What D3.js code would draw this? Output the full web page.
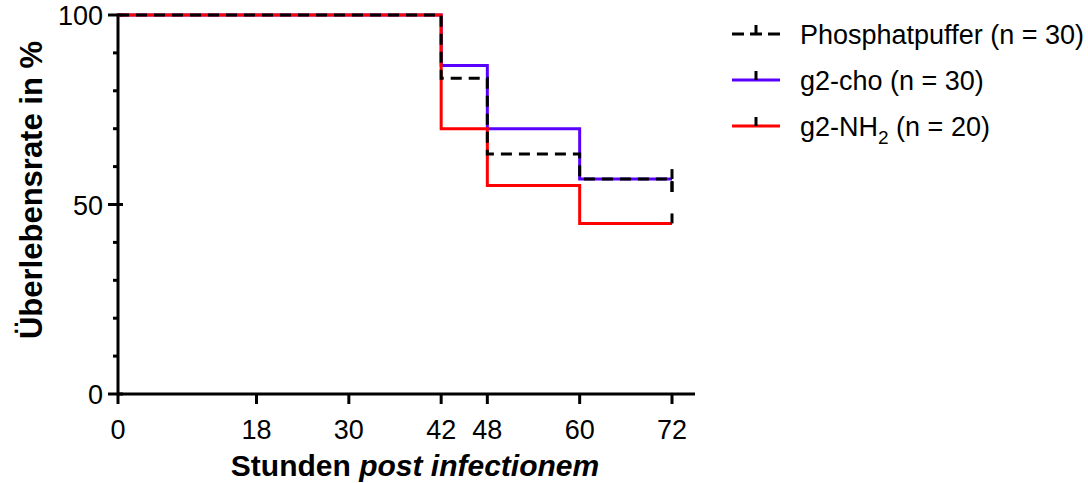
<!DOCTYPE html>
<html>
<head>
<meta charset="utf-8">
<script src="https://cdn.jsdelivr.net/npm/d3@7"></script>
<style>
  body { margin: 0; background: #fff; }
  text { font-family: "Liberation Sans", Arial, Helvetica, sans-serif; fill: #000; }
</style>
</head>
<body>
<svg id="chart"></svg>
<script>
// ---- data ----
const hours = [0, 42, 48, 60, 72];
const phosphat = [100, 83.3, 63.3, 56.7, 53.3];
const cho = [100, 86.7, 70, 56.7, 56.7];
const nh2 = [100, 70, 55, 45, 45];
const xTicks = [0, 18, 30, 42, 48, 60, 72];
const yMajor = [0, 50, 100];
const yMinor = [10, 20, 30, 40, 60, 70, 80, 90];

const series = [
  { name: "g2-cho (n = 30)", values: cho, color: "#5a00ff", dash: null },
  { name: "g2-NH2 (n = 20)", values: nh2, color: "#ff0000", dash: null },
  { name: "Phosphatpuffer (n = 30)", values: phosphat, color: "#000", dash: "11,7" }
];
const legendOrder = [2, 0, 1];

const W = 1088, H = 483;
const svg = d3.select("#chart").attr("width", W).attr("height", H);

// scales
const x = d3.scaleLinear().domain([0, 72]).range([118, 672]);
const y = d3.scaleLinear().domain([0, 100]).range([394, 15]);

// ---- axes ----
const axis = svg.append("g").attr("stroke", "#000").attr("stroke-width", 3);
axis.append("line").attr("x1", x(0)).attr("x2", 695).attr("y1", y(0)).attr("y2", y(0));
axis.append("line").attr("x1", x(0)).attr("x2", x(0)).attr("y1", y(0) + 1.5).attr("y2", y(100) - 1.5);

axis.selectAll(".xt").data(xTicks).enter().append("line")
  .attr("x1", d => x(d)).attr("x2", d => x(d))
  .attr("y1", y(0)).attr("y2", y(0) + 10);

axis.selectAll(".ymaj").data(yMajor).enter().append("line")
  .attr("x1", x(0) - 10).attr("x2", x(0) + 5)
  .attr("y1", d => y(d)).attr("y2", d => y(d));

axis.selectAll(".ymin").data(yMinor).enter().append("line")
  .attr("x1", x(0) - 5).attr("x2", x(0))
  .attr("y1", d => y(d)).attr("y2", d => y(d));

svg.selectAll(".xl").data(xTicks).enter().append("text")
  .attr("x", d => x(d)).attr("y", 439)
  .attr("text-anchor", "middle")
  .style("font-size", "27px")
  .text(d => d);

svg.selectAll(".yl").data(yMajor).enter().append("text")
  .attr("x", 103).attr("y", d => y(d) + 10)
  .attr("text-anchor", "end")
  .style("font-size", "27px")
  .text(d => d);

// axis titles
const xt = svg.append("text")
  .attr("x", 415).attr("y", 476)
  .attr("text-anchor", "middle")
  .style("font-size", "30px").style("font-weight", "bold");
xt.append("tspan").text("Stunden ");
xt.append("tspan").style("font-style", "italic").text("post infectionem");

svg.append("text")
  .attr("transform", "translate(42,190) rotate(-90)")
  .attr("text-anchor", "middle")
  .style("font-size", "31px").style("font-weight", "bold")
  .text("Überlebensrate in %");

// ---- survival curves ----
const line = d3.line()
  .x((d, i) => x(hours[i]))
  .y(d => y(d))
  .curve(d3.curveStepAfter);

series.forEach(s => {
  svg.append("path")
    .attr("d", line(s.values))
    .attr("fill", "none")
    .attr("stroke", s.color)
    .attr("stroke-width", 3)
    .attr("stroke-dasharray", s.dash);
});

// censored ticks at the end
series.forEach(s => {
  const last = s.values[s.values.length - 1];
  svg.append("line")
    .attr("x1", x(72)).attr("x2", x(72))
    .attr("y1", y(last)).attr("y2", y(last) - 10)
    .attr("stroke", "#000").attr("stroke-width", 3);
});

// ---- legend ----
const legend = svg.append("g");
legendOrder.forEach((k, i) => {
  const s = series[k];
  const cy = 34 + i * 46;
  legend.append("line")
    .attr("x1", 732).attr("x2", 780).attr("y1", cy).attr("y2", cy)
    .attr("stroke", s.color).attr("stroke-width", 3)
    .attr("stroke-dasharray", s.dash ? "12,6" : null);
  legend.append("line")
    .attr("x1", 756).attr("x2", 756).attr("y1", cy).attr("y2", cy - 9)
    .attr("stroke", "#000").attr("stroke-width", 3);
  const t = legend.append("text")
    .attr("x", 800).attr("y", cy + 10)
    .style("font-size", "27px");
  if (s.name.indexOf("NH2") >= 0) {
    t.append("tspan").text("g2-NH");
    t.append("tspan").attr("dy", 8).style("font-size", "19px").text("2");
    t.append("tspan").attr("dy", -8).text(" (n = 20)");
  } else {
    t.text(s.name);
  }
});
</script>
</body>
</html>
